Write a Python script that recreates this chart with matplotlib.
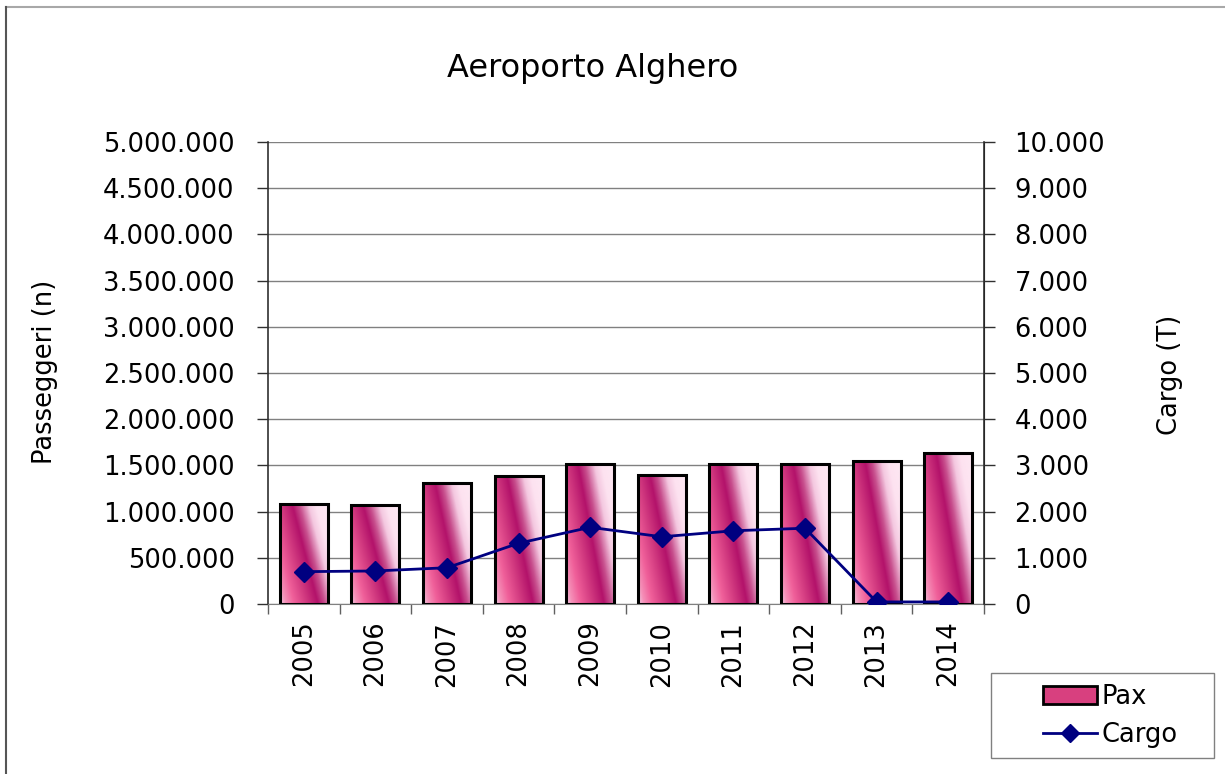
import matplotlib
matplotlib.use("Agg")
import matplotlib.pyplot as plt
import numpy as np
from matplotlib.colors import LinearSegmentedColormap
from matplotlib.patches import Rectangle
from matplotlib.lines import Line2D
from matplotlib.ticker import FuncFormatter, MultipleLocator

years = ["2005", "2006", "2007", "2008", "2009", "2010", "2011", "2012", "2013", "2014"]
pax = [1082000, 1070000, 1306000, 1385000, 1512000, 1393000, 1515000, 1515000, 1544000, 1637000]
cargo = [700, 715, 785, 1315, 1660, 1455, 1585, 1640, 45, 45]

title = "Aeroporto Alghero"
ylabel_left = "Passeggeri (n)"
ylabel_right = "Cargo (T)"

plt.rcParams['font.family'] = ['DejaVu Sans']
FS = 18.5

W, H = 1225, 774
fig = plt.figure(figsize=(W / 100, H / 100), dpi=100)
fig.patch.set_facecolor("white")

def px(x0, y0, x1, y1):
    return [x0 / W, 1 - y1 / H, (x1 - x0) / W, (y1 - y0) / H]

ax = fig.add_axes(px(268, 142, 984, 604))
ax2 = ax.twinx()

# gradient colormap for bars
smax = 1.55
stops = [(0.0, '#F0C8E2'), (0.12, '#F590B8'), (0.3, '#F0609A'), (0.55, '#D23A80'),
         (0.8, '#B3126A'), (0.95, '#C8508E'), (1.15, '#F4C8E0'), (1.3, '#FDE2F0'), (1.55, '#FDE8F3')]
cmap = LinearSegmentedColormap.from_list("barg", [(s / smax, c) for s, c in stops])

x = np.arange(len(years))
bw = 0.67
u = np.linspace(0, 1, 60)
v = np.linspace(0, 1, 200)
U, V = np.meshgrid(u, v)
S = (U + 0.55 * V) / smax

bars = ax.bar(x, pax, width=bw, facecolor='none', edgecolor='black', linewidth=2.2, zorder=3)
for rect in bars:
    x0 = rect.get_x()
    h = rect.get_height()
    im = ax.imshow(S, cmap=cmap, vmin=0, vmax=1, origin='lower', aspect='auto',
                   extent=[x0, x0 + bw, 0, h], interpolation='bilinear', zorder=2)
    im.set_clip_path(rect)

ax.set_xlim(-0.5, len(years) - 0.5)
ax.set_ylim(0, 5000000)
ax.yaxis.set_major_locator(MultipleLocator(500000))
ax.yaxis.set_major_formatter(FuncFormatter(lambda v_, p: f"{int(v_):,}".replace(",", ".")))
ax.grid(axis='y', color='#808080', linewidth=1.0, zorder=0)
ax.set_axisbelow(True)

ax.set_xticks(x)
ax.set_xticklabels(years, rotation=90, fontsize=FS)
ax.tick_params(axis='x', length=0, pad=12)
ax.set_xticks(np.arange(-0.5, len(years)), minor=True)
ax.tick_params(axis='x', which='minor', length=7, color='#606060', width=1.0, direction='out')
ax.tick_params(axis='y', labelsize=FS, length=8, width=1.0, direction='out', color='#303030', pad=16)

for sp in ['top']:
    ax.spines[sp].set_visible(False)
    ax2.spines[sp].set_visible(False)
ax.spines['bottom'].set_color('#808080')
ax.spines['left'].set_color('#303030')
ax.spines['left'].set_linewidth(1.2)
ax2.spines['right'].set_color('#303030')
ax2.spines['right'].set_linewidth(1.2)
ax2.spines['left'].set_visible(False)
ax2.spines['bottom'].set_visible(False)

ax2.plot(x, cargo, color='#000080', linewidth=2.0, marker='D', markersize=10, zorder=5)
ax2.set_ylim(0, 10000)
ax2.yaxis.set_major_locator(MultipleLocator(1000))
ax2.yaxis.set_major_formatter(FuncFormatter(lambda v_, p: f"{int(v_):,}".replace(",", ".")))
ax2.tick_params(axis='y', labelsize=FS, length=8, width=1.0, direction='out', color='#303030', pad=14)

fig.text(593 / W, 1 - 68 / H, title, fontsize=23, ha='center', va='center')
fig.text(45 / W, 1 - 372 / H, ylabel_left, fontsize=FS, rotation=90, ha='center', va='center')
fig.text(1170 / W, 1 - 375 / H, ylabel_right, fontsize=FS, rotation=90, ha='center', va='center')

# figure border (top and left)
fig.add_artist(Line2D([6 / W, 1], [1 - 7 / H, 1 - 7 / H], color='#A8A8A8', linewidth=1.5, transform=fig.transFigure))
fig.add_artist(Line2D([6 / W, 6 / W], [1 - 7 / H, 0], color='#555555', linewidth=1.5, transform=fig.transFigure))

# legend box
fig.add_artist(Rectangle((991 / W, 1 - 758 / H), (1214 - 991) / W, (758 - 673) / H,
                         facecolor='white', edgecolor='#808080', linewidth=1.0, transform=fig.transFigure))
pax_handle = Rectangle((0, 0), 1, 1, facecolor='#D8407F', edgecolor='black', linewidth=2)
cargo_handle = Line2D([], [], color='#000080', linewidth=2.0, marker='D', markersize=9)
leg = fig.legend([pax_handle, cargo_handle], ["Pax", "Cargo"], frameon=False, fontsize=FS,
                 loc='center left', bbox_to_anchor=(1030 / W, 1 - 716 / H),
                 handlelength=2.1, handletextpad=0.2, labelspacing=0.45, borderpad=0)

fig.savefig("out.png", dpi=100, facecolor='white')
